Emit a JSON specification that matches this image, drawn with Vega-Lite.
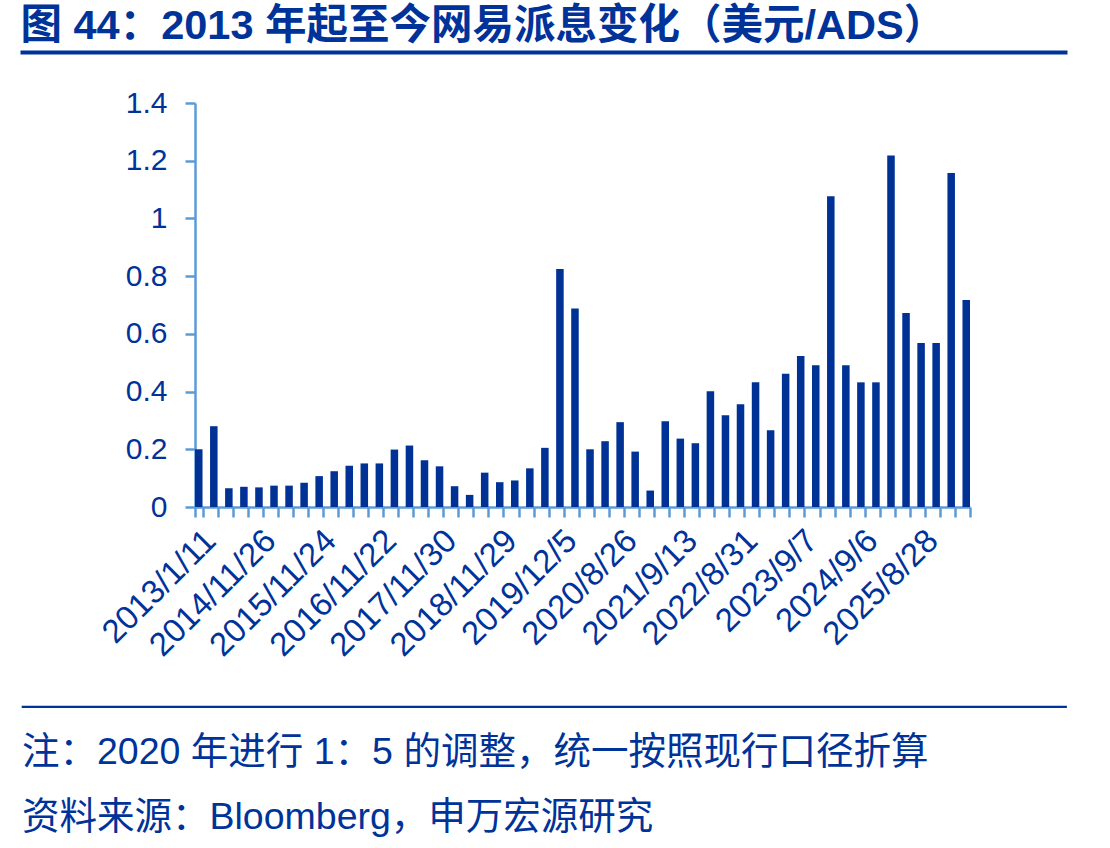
{
  "$schema": "https://vega.github.io/schema/vega-lite/v6.json",
  "background": "white",
  "padding": {"left": 20, "top": 6, "right": 0, "bottom": 0},
  "title": {
    "text": "图 44：2013 年起至今网易派息变化（美元/ADS）",
    "anchor": "start",
    "fontSize": 41.5,
    "fontWeight": "bold",
    "color": "#003399",
    "font": "Liberation Sans, Noto Sans CJK SC",
    "offset": -2.5
  },
  "spacing": 29,
  "vconcat": [
    {
      "width": 1044,
      "height": 1,
      "view": {"stroke": "#003399", "strokeWidth": 3},
      "data": {"values": [{"t": ""}]},
      "mark": {"type": "text"},
      "encoding": {"text": {"field": "t"}}
    },
    {
      "width": 1044,
      "height": 404,
      "view": {"stroke": null},
      "data": {
        "values": [
          {"n": 1, "label": "2013/1/11", "v": 0.20},
          {"n": 2, "label": "", "v": 0.28},
          {"n": 3, "label": "", "v": 0.065},
          {"n": 4, "label": "", "v": 0.07},
          {"n": 5, "label": "2014/11/26", "v": 0.068},
          {"n": 6, "label": "", "v": 0.074},
          {"n": 7, "label": "", "v": 0.074},
          {"n": 8, "label": "", "v": 0.084},
          {"n": 9, "label": "2015/11/24", "v": 0.107},
          {"n": 10, "label": "", "v": 0.124},
          {"n": 11, "label": "", "v": 0.143},
          {"n": 12, "label": "", "v": 0.151},
          {"n": 13, "label": "2016/11/22", "v": 0.151},
          {"n": 14, "label": "", "v": 0.199},
          {"n": 15, "label": "", "v": 0.213},
          {"n": 16, "label": "", "v": 0.162},
          {"n": 17, "label": "2017/11/30", "v": 0.141},
          {"n": 18, "label": "", "v": 0.072},
          {"n": 19, "label": "", "v": 0.042},
          {"n": 20, "label": "", "v": 0.119},
          {"n": 21, "label": "2018/11/29", "v": 0.086},
          {"n": 22, "label": "", "v": 0.092},
          {"n": 23, "label": "", "v": 0.134},
          {"n": 24, "label": "", "v": 0.205},
          {"n": 25, "label": "2019/12/5", "v": 0.825},
          {"n": 26, "label": "", "v": 0.688},
          {"n": 27, "label": "", "v": 0.200},
          {"n": 28, "label": "", "v": 0.228},
          {"n": 29, "label": "2020/8/26", "v": 0.294},
          {"n": 30, "label": "", "v": 0.192},
          {"n": 31, "label": "", "v": 0.057},
          {"n": 32, "label": "", "v": 0.297},
          {"n": 33, "label": "2021/9/13", "v": 0.237},
          {"n": 34, "label": "", "v": 0.221},
          {"n": 35, "label": "", "v": 0.401},
          {"n": 36, "label": "", "v": 0.318},
          {"n": 37, "label": "2022/8/31", "v": 0.356},
          {"n": 38, "label": "", "v": 0.432},
          {"n": 39, "label": "", "v": 0.266},
          {"n": 40, "label": "", "v": 0.462},
          {"n": 41, "label": "2023/9/7", "v": 0.523},
          {"n": 42, "label": "", "v": 0.491},
          {"n": 43, "label": "", "v": 1.077},
          {"n": 44, "label": "", "v": 0.491},
          {"n": 45, "label": "2024/9/6", "v": 0.432},
          {"n": 46, "label": "", "v": 0.432},
          {"n": 47, "label": "", "v": 1.218},
          {"n": 48, "label": "", "v": 0.672},
          {"n": 49, "label": "2025/8/28", "v": 0.568},
          {"n": 50, "label": "", "v": 0.568},
          {"n": 51, "label": "", "v": 1.157},
          {"n": 52, "label": "", "v": 0.717}
        ]
      },
      "mark": {"type": "bar", "color": "#003296"},
      "encoding": {
        "x": {
          "field": "n",
          "type": "ordinal",
          "sort": "ascending",
          "scale": {"paddingInner": 0.5, "paddingOuter": 0, "range": [173, 948]},
          "axis": {
            "title": null,
            "tickBand": "extent",
            "labelExpr": "datum.value % 4 == 1 ? ['2013/1/11','2014/11/26','2015/11/24','2016/11/22','2017/11/30','2018/11/29','2019/12/5','2020/8/26','2021/9/13','2022/8/31','2023/9/7','2024/9/6','2025/8/28'][floor(datum.value / 4)] : ''",
            "labelAngle": -45,
            "labelFontSize": 33,
            "labelColor": "#003399",
            "labelOverlap": false,
            "labelBound": false,
            "labelPadding": 7,
            "domainColor": "#5B9BD5",
            "domainWidth": 2.5,
            "tickColor": "#5B9BD5",
            "tickWidth": 2.5,
            "tickSize": 10,
            "minExtent": 163,
            "maxExtent": 163
          }
        },
        "y": {
          "field": "v",
          "type": "quantitative",
          "scale": {"domain": [0, 1.4], "nice": false},
          "axis": {
            "title": null,
            "offset": -173,
            "values": [0, 0.2, 0.4, 0.6, 0.8, 1, 1.2, 1.4],
            "format": "~g",
            "grid": false,
            "labelFontSize": 30,
            "labelColor": "#003399",
            "labelPadding": 18,
            "domainColor": "#5B9BD5",
            "domainWidth": 2.5,
            "tickColor": "#5B9BD5",
            "tickWidth": 2.5,
            "tickSize": 10,
            "minExtent": 0,
            "maxExtent": 0
          }
        }
      }
    },
    {
      "width": 1044,
      "height": 1,
      "view": {"stroke": "#003399", "strokeWidth": 1.2},
      "data": {"values": [{"t": ""}]},
      "mark": {"type": "text"},
      "encoding": {"text": {"field": "t"}},
      "title": {
        "text": ["注：2020 年进行 1：5 的调整，统一按照现行口径折算", "资料来源：Bloomberg，申万宏源研究"],
        "orient": "bottom",
        "anchor": "start",
        "fontSize": 37.5,
        "fontWeight": "normal",
        "color": "#003399",
        "lineHeight": 65,
        "offset": 22
      }
    }
  ],
  "config": {
    "font": "Liberation Sans, Noto Sans CJK SC",
    "title": {"font": "Liberation Sans, Noto Sans CJK SC"}
  }
}
